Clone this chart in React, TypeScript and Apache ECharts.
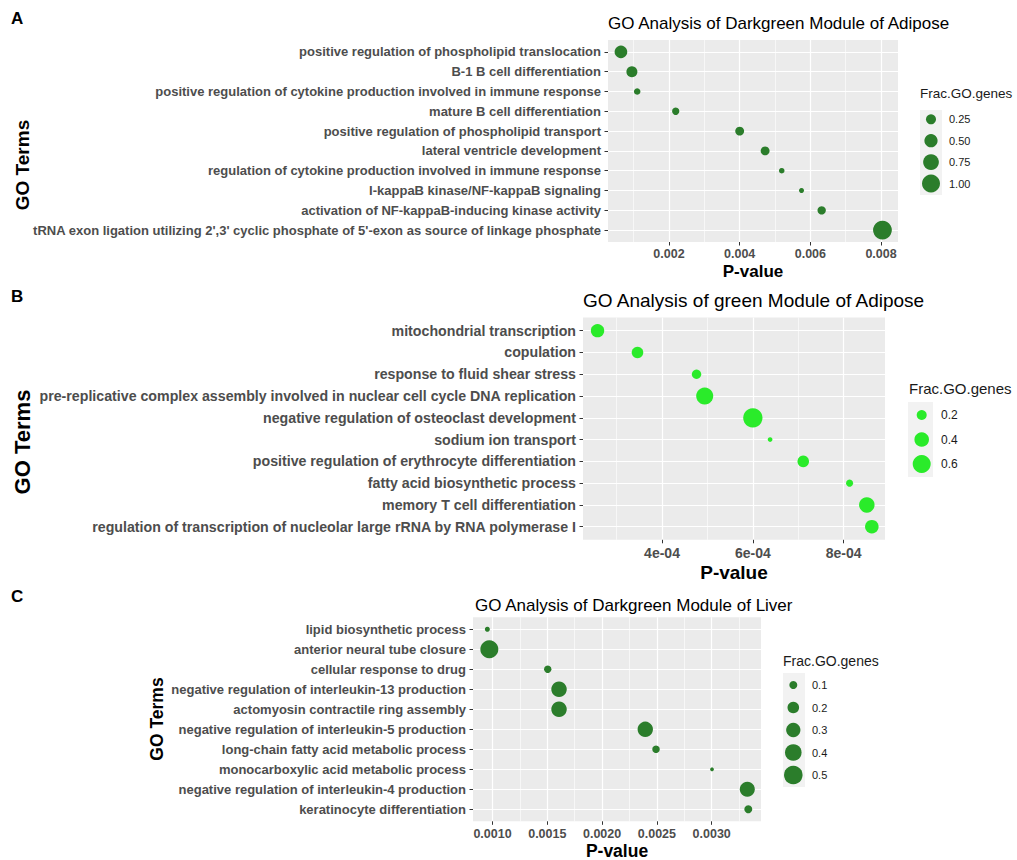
import React, { useEffect, useRef } from 'react';
import * as echarts from 'echarts';

const FONT = '"Liberation Sans", Arial, Helvetica, sans-serif';

// ---- A: Darkgreen module of adipose ----
const termsA = [
  'positive regulation of phospholipid translocation',
  'B-1 B cell differentiation',
  'positive regulation of cytokine production involved in immune response',
  'mature B cell differentiation',
  'positive regulation of phospholipid transport',
  'lateral ventricle development',
  'regulation of cytokine production involved in immune response',
  'I-kappaB kinase/NF-kappaB signaling',
  'activation of NF-kappaB-inducing kinase activity',
  "tRNA exon ligation utilizing 2',3' cyclic phosphate of 5'-exon as source of linkage phosphate",
];
const pValuesA = [0.00064, 0.00095, 0.0011, 0.00219, 0.004, 0.00472, 0.00519, 0.00575, 0.00632, 0.00804];
const fracA = [0.45, 0.32, 0.06, 0.095, 0.18, 0.18, 0.02, 0.0, 0.15, 1.1];
const xTicksA = [0.002, 0.004, 0.006, 0.008];
const legendA = [0.25, 0.5, 0.75, 1.0];

// ---- B: green module of adipose ----
const termsB = [
  'mitochondrial transcription',
  'copulation',
  'response to fluid shear stress',
  'pre-replicative complex assembly involved in nuclear cell cycle DNA replication',
  'negative regulation of osteoclast development',
  'sodium ion transport',
  'positive regulation of erythrocyte differentiation',
  'fatty acid biosynthetic process',
  'memory T cell differentiation',
  'regulation of transcription of nucleolar large rRNA by RNA polymerase I',
];
const pValuesB = [2.58e-4, 3.46e-4, 4.76e-4, 4.94e-4, 6.0e-4, 6.38e-4, 7.11e-4, 8.13e-4, 8.51e-4, 8.62e-4];
const fracB = [0.34, 0.26, 0.18, 0.54, 0.69, 0.06, 0.26, 0.11, 0.45, 0.35];
const xTicksB = [4e-4, 6e-4, 8e-4];
const legendB = [0.2, 0.4, 0.6];

// ---- C: Darkgreen module of liver ----
const termsC = [
  'lipid biosynthetic process',
  'anterior neural tube closure',
  'cellular response to drug',
  'negative regulation of interleukin-13 production',
  'actomyosin contractile ring assembly',
  'negative regulation of interleukin-5 production',
  'long-chain fatty acid metabolic process',
  'monocarboxylic acid metabolic process',
  'negative regulation of interleukin-4 production',
  'keratinocyte differentiation',
];
const pValuesC = [0.000953, 0.000971, 0.001504, 0.001607, 0.001607, 0.002394, 0.002492, 0.003003, 0.003325, 0.003334];
const fracC = [0.045, 0.47, 0.087, 0.35, 0.35, 0.345, 0.09, 0.03, 0.33, 0.1];
const xTicksC = [0.001, 0.0015, 0.002, 0.0025, 0.003];
const legendC = [0.1, 0.2, 0.3, 0.4, 0.5];

// area-proportional size scale: diameter from r^2 = a + b * value
const sizeScale = (a: number, b: number) => (v: number) => 2 * Math.sqrt(Math.max(a + b * v, 3));

const sciFmt = (v: number) => {
  const [m, e] = v.toExponential(0).split('e');
  const n = Math.abs(parseInt(e, 10));
  return `${m}e${e.startsWith('-') ? '-' : '+'}${n < 10 ? '0' + n : n}`;
};

const DARK = '#2b7d2b';
const BRIGHT = '#2aeb2a';

const panels = [
  {
    tag: 'A', tagY: 18,
    title: 'GO Analysis of Darkgreen Module of Adipose', titleX: 608, titleY: 23, titleSize: 17,
    grid: { left: 608, top: 40, width: 290, height: 202 },
    xMin: 0.000274, xMax: 0.00848,
    terms: termsA, pvals: pValuesA, frac: fracA, ticks: xTicksA,
    fmt: (v: number) => v.toFixed(3),
    color: DARK, size: sizeScale(6.3, 74.7),
    yLabelSize: 13, xLabelSize: 12.5, xLabelMargin: 5,
    goX: 22, goY: 165, goSize: 19,
    pvY: 271, pvSize: 17,
    lg: {
      values: legendA, fmt: (v: number) => v.toFixed(2),
      titleX: 920, titleY: 93, titleSize: 13.5,
      keyX: 931, keyY0: 119.3, keyStep: 21.4,
      bg: [920, 110, 22, 85], labelX: 949, labelSize: 11,
    },
  },
  {
    tag: 'B', tagY: 296,
    title: 'GO Analysis of green Module of Adipose', titleX: 583, titleY: 300, titleSize: 19,
    grid: { left: 583, top: 317.6, width: 302, height: 222.2 },
    xMin: 2.26e-4, xMax: 8.91e-4,
    terms: termsB, pvals: pValuesB, frac: fracB, ticks: xTicksB,
    fmt: sciFmt,
    color: BRIGHT, size: sizeScale(-3, 140),
    yLabelSize: 14.2, xLabelSize: 14, xLabelMargin: 6,
    goX: 22, goY: 442, goSize: 22,
    pvY: 572, pvSize: 19,
    lg: {
      values: legendB, fmt: (v: number) => v.toFixed(1),
      titleX: 909, titleY: 388, titleSize: 15,
      keyX: 921.7, keyY0: 415, keyStep: 24.5,
      bg: [908, 402, 25, 75], labelX: 941, labelSize: 12,
    },
  },
  {
    tag: 'C', tagY: 596,
    title: 'GO Analysis of Darkgreen Module of Liver', titleX: 475, titleY: 605, titleSize: 17,
    grid: { left: 473, top: 617.3, width: 288, height: 204 },
    xMin: 0.000822, xMax: 0.00345,
    terms: termsC, pvals: pValuesC, frac: fracC, ticks: xTicksC,
    fmt: (v: number) => v.toFixed(4),
    color: DARK, size: sizeScale(-1.6, 176),
    yLabelSize: 13, xLabelSize: 12.5, xLabelMargin: 6,
    goX: 157, goY: 719, goSize: 17.5,
    pvY: 851, pvSize: 17.5,
    lg: {
      values: legendC, fmt: (v: number) => v.toFixed(1),
      titleX: 783, titleY: 661, titleSize: 14,
      keyX: 793.3, keyY0: 685, keyStep: 22.5,
      bg: [783, 673, 22, 114], labelX: 812, labelSize: 11,
    },
  },
];

const text = (
  str: string, x: number, y: number, font: string,
  align: 'left' | 'center' | 'right' = 'left', rotation = 0, fill = '#000',
) => ({
  type: 'text', x, y, rotation, silent: true,
  style: {
    text: str, font, fill,
    align, textAlign: align, verticalAlign: 'middle', textVerticalAlign: 'middle',
  },
});

function buildOption() {
  const grid: any[] = [];
  const xAxis: any[] = [];
  const yAxis: any[] = [];
  const series: any[] = [];
  const graphic: any[] = [];

  panels.forEach((p, i) => {
    grid.push({ ...p.grid, show: false, containLabel: false, outerBoundsMode: 'none' });

    // grey panel background, kept underneath the axis grid lines
    graphic.push({
      type: 'rect', silent: true, z: -100,
      shape: { x: p.grid.left, y: p.grid.top, width: p.grid.width, height: p.grid.height },
      style: { fill: '#EBEBEB' },
    });

    xAxis.push({
      type: 'value', gridIndex: i, min: p.xMin, max: p.xMax, splitNumber: 4, position: 'bottom',
      axisLine: { show: false, onZero: false },
      axisTick: { show: true, length: 3.5, lineStyle: { color: '#333', width: 1 }, customValues: p.ticks },
      axisLabel: {
        customValues: p.ticks, formatter: p.fmt, fontFamily: FONT, fontWeight: 'bold',
        fontSize: p.xLabelSize, color: '#4D4D4D', margin: p.xLabelMargin,
      },
      splitLine: { show: true, lineStyle: { color: '#FFFFFF', width: 1.2 } },
      minorTick: { show: false, splitNumber: 2 },
      minorSplitLine: { show: true, lineStyle: { color: '#FFFFFF', width: 0.6 } },
    });

    const idx = p.terms.map((_, j) => j);
    yAxis.push({
      type: 'value', gridIndex: i, inverse: true, min: -0.6, max: p.terms.length - 0.4, splitNumber: 10,
      position: 'left',
      axisLine: { show: false, onZero: false },
      axisTick: { show: true, length: 3.5, lineStyle: { color: '#333', width: 1 }, customValues: idx },
      axisLabel: {
        customValues: idx, formatter: (v: number) => p.terms[Math.round(v)] ?? '',
        fontFamily: FONT, fontWeight: 'bold', fontSize: p.yLabelSize, color: '#4D4D4D', margin: 7,
      },
      splitLine: { show: true, lineStyle: { color: '#FFFFFF', width: 1.2 } },
      minorSplitLine: { show: false },
    });

    series.push({
      type: 'scatter', xAxisIndex: i, yAxisIndex: i, clip: false,
      data: p.pvals.map((pv, j) => [pv, j, p.frac[j]]),
      symbol: 'circle',
      symbolSize: (d: number[]) => p.size(d[2]),
      itemStyle: { color: p.color, opacity: 1 },
      emphasis: { disabled: true },
    });

    // panel tag, title and axis titles
    graphic.push(text(p.tag, 11, p.tagY, `bold 17px ${FONT}`));
    graphic.push(text(p.title, p.titleX, p.titleY, `${p.titleSize}px ${FONT}`));
    graphic.push(text('GO Terms', p.goX, p.goY, `bold ${p.goSize}px ${FONT}`, 'center', Math.PI / 2));
    graphic.push(text('P-value', p.grid.left + p.grid.width / 2, p.pvY, `bold ${p.pvSize}px ${FONT}`, 'center'));

    // size legend
    const lg = p.lg;
    graphic.push(text('Frac.GO.genes', lg.titleX, lg.titleY, `${lg.titleSize}px ${FONT}`, 'left', 0, '#1A1A1A'));
    graphic.push({
      type: 'rect', silent: true,
      shape: { x: lg.bg[0], y: lg.bg[1], width: lg.bg[2], height: lg.bg[3] },
      style: { fill: '#F2F2F2' },
    });
    lg.values.forEach((v, k) => {
      const cy = lg.keyY0 + k * lg.keyStep;
      graphic.push({
        type: 'circle', silent: true,
        shape: { cx: lg.keyX, cy, r: p.size(v) / 2 },
        style: { fill: p.color },
      });
      graphic.push(text(lg.fmt(v), lg.labelX, cy, `${lg.labelSize}px ${FONT}`, 'left', 0, '#1A1A1A'));
    });
  });

  return {
    animation: false,
    backgroundColor: '#FFFFFF',
    textStyle: { fontFamily: FONT },
    grid, xAxis, yAxis, series, graphic,
  };
}

export default function App() {
  const ref = useRef<HTMLDivElement>(null);
  useEffect(() => {
    if (!ref.current) return;
    const chart = echarts.init(ref.current, undefined, { renderer: 'svg' });
    chart.setOption(buildOption() as any);
    return () => chart.dispose();
  }, []);
  return (
    <div
      ref={ref}
      style={{ position: 'absolute', left: 0, top: 0, width: 1017, height: 860, background: '#fff' }}
    />
  );
}
